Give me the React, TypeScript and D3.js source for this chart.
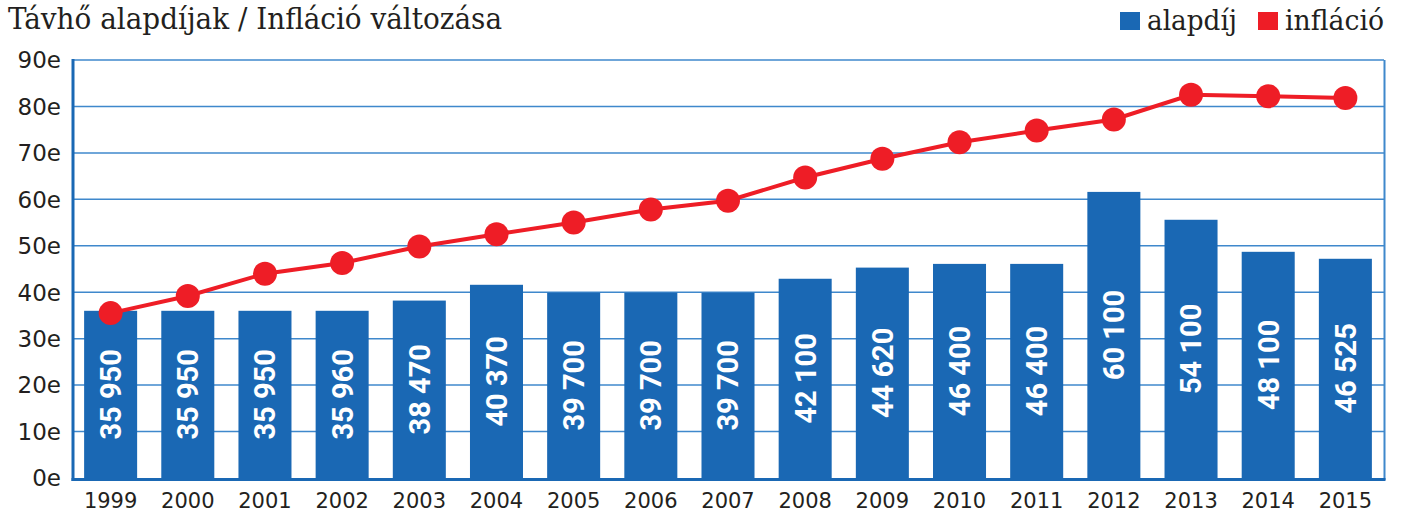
import React from "react";
import * as d3 from "d3";

const years = ["1999","2000","2001","2002","2003","2004","2005","2006","2007","2008","2009","2010","2011","2012","2013","2014","2015"];
const barValues = [36.0,36.0,36.0,36.0,38.2,41.6,39.9,39.9,39.9,42.9,45.3,46.1,46.1,61.6,55.6,48.7,47.2];
const barLabels = ["35 950","35 950","35 950","35 960","38 470","40 370","39 700","39 700","39 700","42 100","44 620","46 400","46 400","60 100","54 100","48 100","46 525"];
const inflation = [35.5,39.2,44.0,46.3,49.85,52.5,55.0,57.8,59.7,64.7,68.75,72.3,74.8,77.2,82.5,82.2,81.8];
const yTicks = [0,10,20,30,40,50,60,70,80,90];
const title = "Távhő alapdíjak / Infláció változása";
const legendItems = [
  { label: "alapdíj", color: "#1a68b4" },
  { label: "infláció", color: "#ee1d26" },
];

const W = 1401, H = 513;
const left = 72, right = 1384, top = 60, bottom = 478;
const BLUE = "#1a68b4";
const RED = "#ee1d26";
const TEXT = "#231f20";
const sans = "Roboto, 'Open Sans', sans-serif";
const tickFont = "'DejaVu Sans', sans-serif";
const serif = "'DejaVu Serif Condensed', 'DejaVu Serif', serif";

export default function App() {
  const x = d3.scaleBand<string>().domain(years).range([left, right]).paddingInner(0.313).paddingOuter(0.157);
  const y = d3.scaleLinear().domain([0, 90]).range([bottom, top]);
  const line = d3.line<number>().x((_, i) => (x(years[i]) as number) + x.bandwidth() / 2).y((d) => y(d));
  const legendX = [1120, 1258];
  const legendW = [90, 99];
  return (
    <svg width={W} height={H} style={{ position: "absolute", left: 0, top: 0, background: "#fff" }}>
      <text x={8} y={29} fontFamily={serif} fontSize={29} fill={TEXT} textLength={494} lengthAdjust="spacingAndGlyphs">{title}</text>
      {legendItems.map((it, i) => (
        <g key={it.label}>
          <rect x={legendX[i]} y={12} width={20} height={18} fill={it.color} />
          <text x={legendX[i] + 27} y={30} fontFamily={serif} fontSize={27} fill={TEXT} textLength={legendW[i]} lengthAdjust="spacingAndGlyphs">{it.label}</text>
        </g>
      ))}
      {yTicks.map((t) => (
        <g key={t}>
          {t > 0 && <line x1={left} x2={right} y1={y(t)} y2={y(t)} stroke="#3f88cc" strokeWidth={1.5} />}
          <text x={61} y={y(t)} dy="0.36em" textAnchor="end" fontFamily={tickFont} fontSize={23} fill={TEXT}>{`${t}e`}</text>
        </g>
      ))}
      {barValues.map((v, i) => (
        <rect key={years[i]} x={x(years[i])} y={y(v)} width={x.bandwidth()} height={bottom - y(v)} fill={BLUE} />
      ))}
      {barValues.map((v, i) => {
        const cx = (x(years[i]) as number) + x.bandwidth() / 2;
        const cy = (y(v) + bottom) / 2;
        return (
          <text key={"l" + years[i]} transform={`translate(${cx},${cy}) rotate(-90)`} textAnchor="middle" dy="0.36em" fontFamily={sans} fontWeight={700} fontSize={29} fill="#fff">{barLabels[i]}</text>
        );
      })}
      <path d={line(inflation) || ""} fill="none" stroke={RED} strokeWidth={4} />
      {inflation.map((v, i) => (
        <circle key={"c" + years[i]} cx={(x(years[i]) as number) + x.bandwidth() / 2} cy={y(v)} r={12} fill={RED} />
      ))}
      <line x1={1384.5} x2={1384.5} y1={top} y2={bottom + 2} stroke="#3f88cc" strokeWidth={2} />
      <line x1={73} x2={73} y1={top - 1} y2={bottom + 3} stroke={BLUE} strokeWidth={3} />
      <line x1={71.5} x2={1385.5} y1={bottom + 1.5} y2={bottom + 1.5} stroke={BLUE} strokeWidth={3} />
      {years.map((yr) => (
        <text key={"x" + yr} x={(x(yr) as number) + x.bandwidth() / 2} y={508} textAnchor="middle" fontFamily={tickFont} fontSize={21} fill={TEXT}>{yr}</text>
      ))}
    </svg>
  );
}
